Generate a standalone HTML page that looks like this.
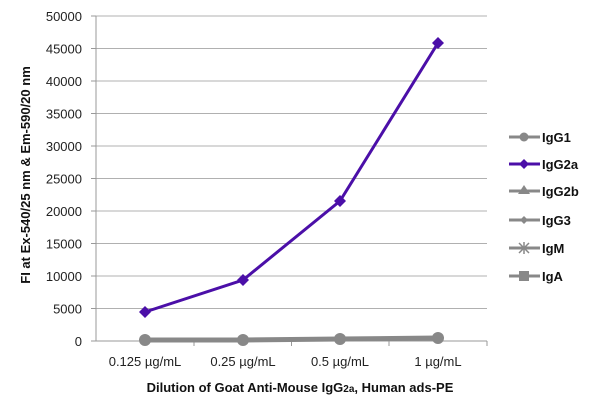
<!DOCTYPE html>
<html><head><meta charset="utf-8"><style>
body{margin:0;background:#fff;}
svg{display:block;font-family:"Liberation Sans",sans-serif;}
</style></head><body>
<svg width="600" height="412" viewBox="0 0 600 412">
<g stroke="#b0b0b0" stroke-width="1">
<line x1="96" x2="487" y1="16" y2="16"/><line x1="96" x2="487" y1="48.5" y2="48.5"/>
<line x1="96" x2="487" y1="81" y2="81"/><line x1="96" x2="487" y1="113.5" y2="113.5"/>
<line x1="96" x2="487" y1="146" y2="146"/><line x1="96" x2="487" y1="178.5" y2="178.5"/>
<line x1="96" x2="487" y1="211" y2="211"/><line x1="96" x2="487" y1="243.5" y2="243.5"/>
<line x1="96" x2="487" y1="276" y2="276"/><line x1="96" x2="487" y1="308.5" y2="308.5"/>
</g>
<g stroke="#999" stroke-width="1">
<line x1="96" x2="96" y1="16" y2="341"/>
<line x1="96" x2="487" y1="341" y2="341"/>
<line x1="91" x2="96" y1="16" y2="16"/><line x1="91" x2="96" y1="48.5" y2="48.5"/><line x1="91" x2="96" y1="81" y2="81"/><line x1="91" x2="96" y1="113.5" y2="113.5"/><line x1="91" x2="96" y1="146" y2="146"/><line x1="91" x2="96" y1="178.5" y2="178.5"/><line x1="91" x2="96" y1="211" y2="211"/><line x1="91" x2="96" y1="243.5" y2="243.5"/><line x1="91" x2="96" y1="276" y2="276"/><line x1="91" x2="96" y1="308.5" y2="308.5"/><line x1="91" x2="96" y1="341" y2="341"/>
<line x1="194" x2="194" y1="341" y2="346"/><line x1="291.5" x2="291.5" y1="341" y2="346"/><line x1="389" x2="389" y1="341" y2="346"/><line x1="487" x2="487" y1="341" y2="346"/>
</g>
<g font-size="13" fill="#222" text-anchor="end">
<text x="82" y="21">50000</text><text x="82" y="53.5">45000</text><text x="82" y="86">40000</text><text x="82" y="118.5">35000</text><text x="82" y="151">30000</text><text x="82" y="183.5">25000</text><text x="82" y="216">20000</text><text x="82" y="248.5">15000</text><text x="82" y="281">10000</text><text x="82" y="313.5">5000</text><text x="82" y="346">0</text>
</g>
<g font-size="13" fill="#222" text-anchor="middle">
<text x="145" y="366">0.125 µg/mL</text><text x="243" y="366">0.25 µg/mL</text><text x="340" y="366">0.5 µg/mL</text><text x="438" y="366">1 µg/mL</text>
</g>
<text x="300" y="392" font-size="13" font-weight="bold" text-anchor="middle" fill="#111">Dilution of Goat Anti-Mouse IgG<tspan font-size="10">2a</tspan>, Human ads-PE</text>
<text transform="translate(30,175) rotate(-90)" font-size="13" font-weight="bold" text-anchor="middle" fill="#111">FI at Ex-540/25 nm &amp; Em-590/20 nm</text>
<polyline points="145,340 243,340 340,339 438,338" fill="none" stroke="#888" stroke-width="5"/>
<g fill="#888">
<circle cx="145" cy="340" r="6"/><circle cx="243" cy="340" r="6"/><circle cx="340" cy="339" r="6"/><circle cx="438" cy="338" r="6"/>
</g>
<polyline points="145,312 243,280 340,201 438,43" fill="none" stroke="#4b0fa8" stroke-width="3"/>
<g fill="#4b0fa8">
<polygon points="145,306 151,312 145,318 139,312"/><polygon points="243,274 249,280 243,286 237,280"/><polygon points="340,195 346,201 340,207 334,201"/><polygon points="438,37 444,43 438,49 432,43"/>
</g>
<g stroke="#888" stroke-width="3">
<line x1="509" x2="540" y1="137" y2="137"/><line x1="509" x2="540" y1="191" y2="191"/><line x1="509" x2="540" y1="220" y2="220"/><line x1="509" x2="540" y1="248" y2="248"/><line x1="509" x2="540" y1="276" y2="276"/>
</g>
<line x1="509" x2="540" y1="164" y2="164" stroke="#4b0fa8" stroke-width="3"/>
<circle cx="524" cy="137" r="4.5" fill="#888"/>
<polygon points="524,159 529,164 524,169 519,164" fill="#4b0fa8"/>
<polygon points="524,185 530,194 518,194" fill="#888"/>
<polygon points="524,216 528,220 524,224 520,220" fill="#888"/>
<g stroke="#888" stroke-width="1.5"><line x1="519" x2="529" y1="243" y2="253"/><line x1="519" x2="529" y1="253" y2="243"/><line x1="524" x2="524" y1="242" y2="254"/></g>
<rect x="519" y="271" width="10" height="10" fill="#888"/>
<g font-size="13" font-weight="bold" fill="#111">
<text x="542" y="142">IgG1</text><text x="542" y="169">IgG2a</text><text x="542" y="196">IgG2b</text><text x="542" y="225">IgG3</text><text x="542" y="253">IgM</text><text x="542" y="281">IgA</text>
</g>
</svg>
</body></html>
